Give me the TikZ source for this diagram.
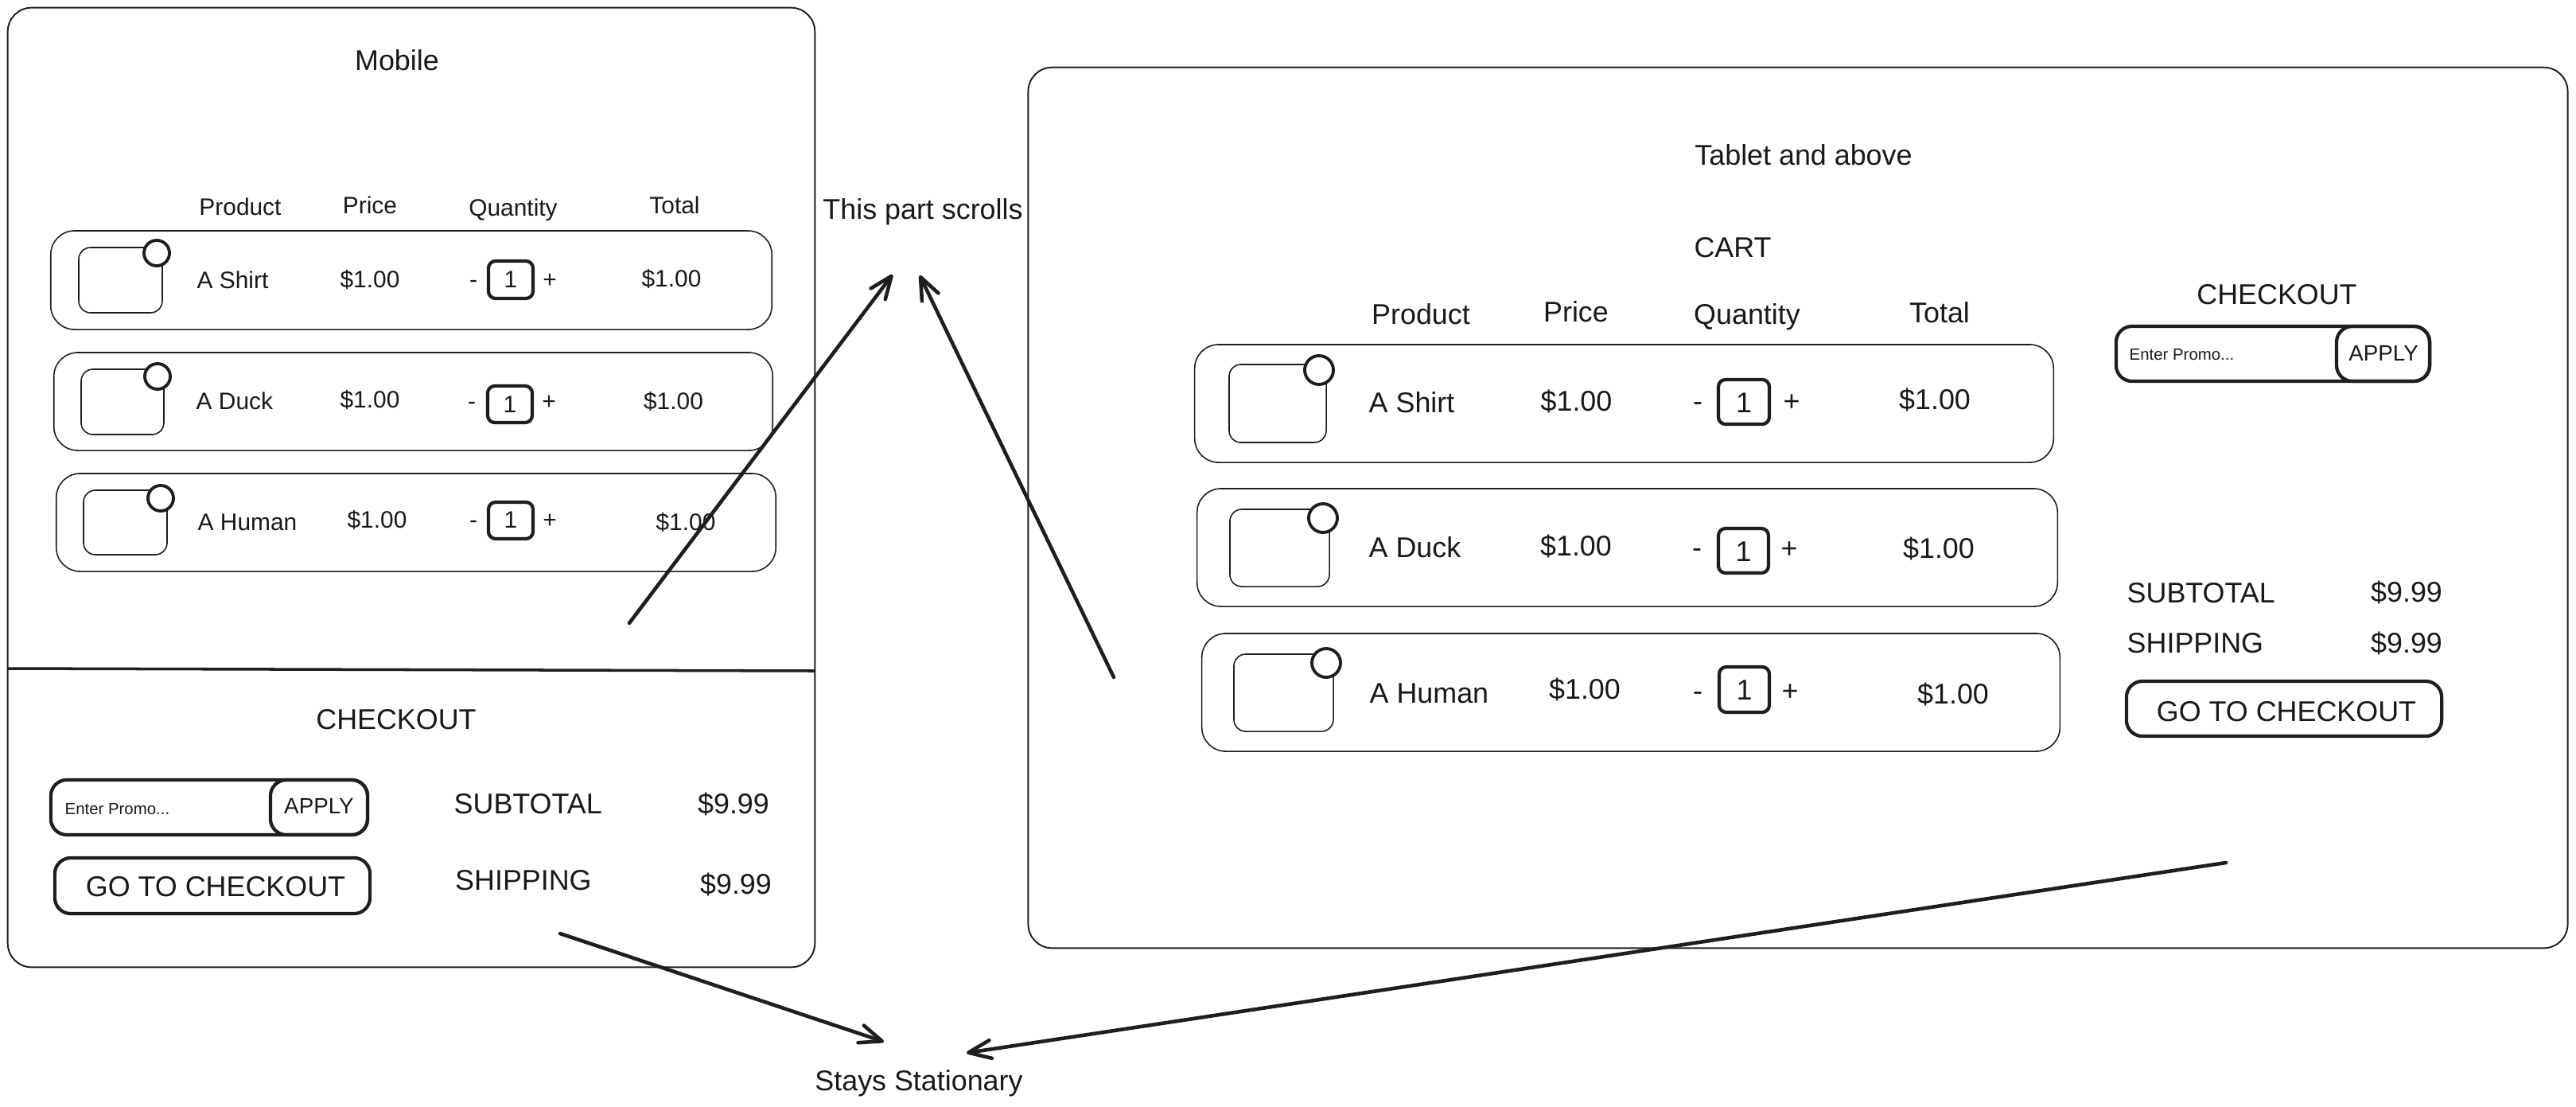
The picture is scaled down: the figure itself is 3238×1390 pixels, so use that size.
\documentclass[tikz,border=0pt]{standalone}
\usepackage{fontspec}
\setmainfont{Liberation Sans}
\usetikzlibrary{arrows.meta}
\definecolor{lc}{RGB}{30,30,30}
\definecolor{tc}{RGB}{25,25,25}
\begin{document}
\begin{tikzpicture}[x=0.01cm,y=-0.01cm,
  frame/.style={draw=lc, line width=0.55pt, rounded corners=0.3cm, inner sep=0, outer sep=0},
  rowbox/.style={draw=lc, line width=0.45pt, rounded corners=0.3cm, inner sep=0, outer sep=0},
  imgbox/.style={draw=lc, line width=0.45pt, rounded corners=0.15cm, inner sep=0, outer sep=0},
  dot/.style={circle, draw=lc, fill=white, line width=1.1pt, inner sep=0, outer sep=0},
  qtybox/.style={draw=lc, line width=1.2pt, rounded corners=0.09cm, inner sep=0, outer sep=0},
  btn/.style={draw=lc, line width=1.2pt, rounded corners=0.2cm, inner sep=0, outer sep=0},
  divider/.style={draw=lc, line width=1pt},
  tl/.style={font=\fontsize{10.2}{12}\selectfont, text=tc, inner sep=0, anchor=base},
  tm/.style={font=\fontsize{8.5}{10}\selectfont, text=tc, inner sep=0, anchor=base},
  tap/.style={font=\fontsize{7.9}{9}\selectfont, text=tc, inner sep=0, anchor=base},
  tpr/.style={font=\fontsize{5.8}{7}\selectfont, text=tc, inner sep=0, anchor=base west},
  arr/.style={draw=lc, line width=1.3pt, line cap=round, -{Straight Barb[length=8pt,width=6.5pt,round]}}
]
\useasboundingbox (0,0) rectangle (3238,1390);

% ================= MOBILE =================
\node[frame, minimum width=10.14cm, minimum height=12.05cm] (mob) at (517,612.5) {};
\coordinate (dvL) at (9,840);
\coordinate (dvR) at (1024,843);
\draw[divider] (dvL) -- (dvR);
\node[tl] (mobt) at (499,88.5) {Mobile};

\node[tm] (mhP) at (302,270) {Product};
\node[tm] (mhR) at (465,268) {Price};
\node[tm] (mhQ) at (645,271) {Quantity};
\node[tm] (mhT) at (848,268) {Total};

% row 1
\node[rowbox, minimum width=9.06cm, minimum height=1.24cm] (mr1) at (517,352) {};
\node[imgbox, minimum width=1.05cm, minimum height=0.82cm] (mi1) at (151.5,352) {};
\node[dot, minimum size=0.32cm] (mc1) at (197,318) {};
\node[tm, anchor=base west] (mn1) at (247,362) {A Shirt};
\node[tm] (mp1) at (465,361) {\$1.00};
\node[tm] (mm1) at (595,361) {-};
\node[qtybox, minimum width=0.56cm, minimum height=0.47cm] (mq1) at (642,351.5) {};
\node[tm] (mqn1) at (642,361) {1};
\node[tm] (mpl1) at (691,361) {+};
\node[tm] (mt1) at (844,360) {\$1.00};

% row 2
\node[rowbox, minimum width=9.03cm, minimum height=1.23cm] (mr2) at (519.5,504.5) {};
\node[imgbox, minimum width=1.04cm, minimum height=0.82cm] (mi2) at (154,505) {};
\node[dot, minimum size=0.32cm] (mc2) at (198,473) {};
\node[tm, anchor=base west] (mn2) at (246,514) {A Duck};
\node[tm] (mp2) at (465,512) {\$1.00};
\node[tm] (mm2) at (593,514) {-};
\node[qtybox, minimum width=0.56cm, minimum height=0.46cm] (mq2) at (641,508) {};
\node[tm] (mqn2) at (641,518) {1};
\node[tm] (mpl2) at (690,514) {+};
\node[tm] (mt2) at (846.5,514) {\$1.00};

% row 3
\node[rowbox, minimum width=9.04cm, minimum height=1.23cm] (mr3) at (523,656.5) {};
\node[imgbox, minimum width=1.05cm, minimum height=0.81cm] (mi3) at (157.5,656.5) {};
\node[dot, minimum size=0.32cm] (mc3) at (202,626) {};
\node[tm, anchor=base west] (mn3) at (248,666) {A Human};
\node[tm] (mp3) at (474,663) {\$1.00};
\node[tm] (mm3) at (595,663) {-};
\node[qtybox, minimum width=0.56cm, minimum height=0.46cm] (mq3) at (642,654) {};
\node[tm] (mqn3) at (642,663) {1};
\node[tm] (mpl3) at (691,663) {+};
\node[tm] (mt3) at (862,666) {\$1.00};

% mobile checkout
\node[tl] (mck) at (498,916) {CHECKOUT};
\node[btn, minimum width=3.98cm, minimum height=0.69cm] (mpromo) at (263,1014.5) {};
\node[btn, minimum width=1.22cm, minimum height=0.69cm] (mapply) at (401,1014.5) {};
\node[tap] (mapt) at (401,1022.5) {APPLY};
\node[tpr] (mprt) at (81,1023.5) {Enter Promo...};
\node[btn, minimum width=3.96cm, minimum height=0.70cm] (mgo) at (267,1113) {};
\node[tl] (mgot) at (271,1126) {GO TO CHECKOUT};
\node[tl, anchor=base west] (msub) at (570,1022.5) {SUBTOTAL};
\node[tl] (msubv) at (922,1022.5) {\$9.99};
\node[tl, anchor=base west] (mship) at (571.5,1118) {SHIPPING};
\node[tl] (mshipv) at (925,1123) {\$9.99};

% ================= TABLET =================
\node[frame, minimum width=19.34cm, minimum height=11.06cm] (tab) at (2260,638) {};
\node[tl] (tabt) at (2267,207) {Tablet and above};
\node[tl] (cart) at (2178,323.5) {CART};
\node[tl] (tck) at (2862,382) {CHECKOUT};

\node[tl] (thP) at (1786,407) {Product};
\node[tl] (thR) at (1981,404) {Price};
\node[tl] (thQ) at (2196,407) {Quantity};
\node[tl] (thT) at (2438,405.5) {Total};

% promo
\node[btn, minimum width=3.94cm, minimum height=0.69cm] (tpromo) at (2857,444.5) {};
\node[btn, minimum width=1.17cm, minimum height=0.69cm] (tapply) at (2995.5,444.5) {};
\node[tap] (tapt) at (2996,453) {APPLY};
\node[tpr] (tprt) at (2676,452.5) {Enter Promo...};

% row 1
\node[rowbox, minimum width=10.79cm, minimum height=1.48cm] (tr1) at (2041.5,507) {};
\node[imgbox, minimum width=1.22cm, minimum height=0.98cm] (ti1) at (1606,507) {};
\node[dot, minimum size=0.36cm] (tc1) at (1658,465) {};
\node[tl, anchor=base west] (tn1) at (1720,518) {A Shirt};
\node[tl] (tp1) at (1981.5,516) {\$1.00};
\node[tl] (tm1) at (2134,516) {-};
\node[qtybox, minimum width=0.64cm, minimum height=0.56cm] (tq1) at (2192,505) {};
\node[tl] (tqn1) at (2192,518) {1};
\node[tl] (tpl1) at (2252,516) {+};
\node[tl] (tt1) at (2432,514) {\$1.00};

% row 2
\node[rowbox, minimum width=10.81cm, minimum height=1.48cm] (tr2) at (2045.5,688) {};
\node[imgbox, minimum width=1.25cm, minimum height=0.97cm] (ti2) at (1608.5,688.5) {};
\node[dot, minimum size=0.36cm] (tc2) at (1663,651) {};
\node[tl, anchor=base west] (tn2) at (1720,700) {A Duck};
\node[tl] (tp2) at (1981,698) {\$1.00};
\node[tl] (tm2) at (2133,700) {-};
\node[qtybox, minimum width=0.63cm, minimum height=0.56cm] (tq2) at (2191.5,692) {};
\node[tl] (tqn2) at (2191.5,705) {1};
\node[tl] (tpl2) at (2249,701) {+};
\node[tl] (tt2) at (2437,701) {\$1.00};

% row 3
\node[rowbox, minimum width=10.78cm, minimum height=1.48cm] (tr3) at (2050,870) {};
\node[imgbox, minimum width=1.25cm, minimum height=0.97cm] (ti3) at (1613.5,870.5) {};
\node[dot, minimum size=0.36cm] (tc3) at (1667,833) {};
\node[tl, anchor=base west] (tn3) at (1721,883) {A Human};
\node[tl] (tp3) at (1992,878) {\$1.00};
\node[tl] (tm3) at (2134,880) {-};
\node[qtybox, minimum width=0.63cm, minimum height=0.57cm] (tq3) at (2192.5,866.5) {};
\node[tl] (tqn3) at (2192.5,879) {1};
\node[tl] (tpl3) at (2250,880) {+};
\node[tl] (tt3) at (2455,884) {\$1.00};

% totals
\node[tl, anchor=base west] (tsub) at (2673,757) {SUBTOTAL};
\node[tl] (tsubv) at (3025,756) {\$9.99};
\node[tl, anchor=base west] (tship) at (2673,820) {SHIPPING};
\node[tl] (tshipv) at (3025,820) {\$9.99};
\node[btn, minimum width=3.96cm, minimum height=0.69cm] (tgo) at (2871,890.5) {};
\node[tl] (tgot) at (2874,906) {GO TO CHECKOUT};

% ================= NOTES & ARROWS =================
\node[tl] (scroll) at (1160,275) {This part scrolls};
\node[tl] (stat) at (1155,1370) {Stays Stationary};

\coordinate (a1s) at (791,783);
\coordinate (a1e) at (1122,345);
\coordinate (a2s) at (1400,851);
\coordinate (a2e) at (1156,346);
\coordinate (a3s) at (704,1173);
\coordinate (a3e) at (1111,1309);
\coordinate (a4s) at (2798,1084);
\coordinate (a4e) at (1215,1323);
\draw[arr] (a1s) -- (a1e);
\draw[arr] (a2s) -- (a2e);
\draw[arr] (a3s) -- (a3e);
\draw[arr] (a4s) -- (a4e);
\end{tikzpicture}
\end{document}
